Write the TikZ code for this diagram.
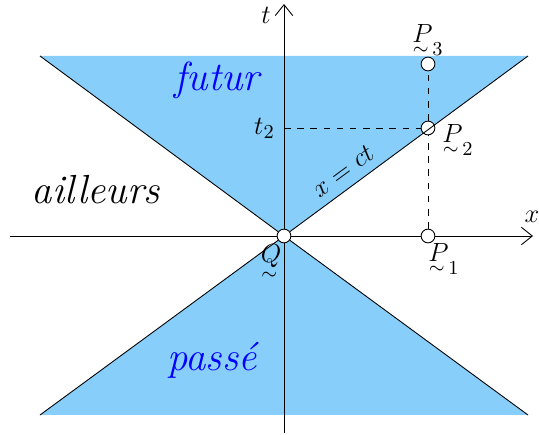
\documentclass[tikz,border=0pt]{standalone}
\usepackage{amsmath,amssymb}
\usetikzlibrary{arrows.meta,positioning}
% letter with a small tilde under it
\newcommand{\utl}[1]{\mathord{\setbox0\hbox{$#1$}\vtop{\copy0\nointerlineskip
    \kern2pt\hbox to\wd0{\hss$\scriptstyle\sim$\hss\kern1.5pt}}}}
\definecolor{conecol}{RGB}{135,206,250}

\begin{document}
\begin{tikzpicture}[
    x=0.016cm, y=-0.016cm,
    event/.style={
        circle, draw, fill=white, inner sep=0pt,
        minimum size=0.22cm
    },
    axis/.style={-{Straight Barb[length=5pt,width=8pt]}},
    lab/.style={font=\fontsize{12.5}{15}\selectfont, inner sep=1pt},
    region/.style={font=\fontsize{18.5}{22}\selectfont\itshape},
    guide/.style={dashed}
]
\useasboundingbox (0,0) rectangle (539,435);

% light cone
\fill[conecol] (40,56) -- (528,56) -- (284,236) -- cycle;
\fill[conecol] (40,415) -- (528,415) -- (284,236) -- cycle;

\node[event] (O)  at (284,236) {};
\node[event] (P1) at (428,236) {};
\node[event] (P2) at (428,128) {};
\node[event] (P3) at (428,64)  {};

\coordinate (ul) at (40,56);
\coordinate (ur) at (528,56);
\coordinate (ll) at (40,415);
\coordinate (lr) at (528,415);
\coordinate (xmin) at (10,236);
\coordinate (xmax) at (533,236);
\coordinate (tmin) at (284,433);
\coordinate (tmax) at (284,4);
\coordinate (t2) at (284,128);

\draw (ul) -- (O) -- (lr);
\draw (ll) -- (O) -- (ur);
\draw (xmin) -- (O);
\draw[axis] (O) -- (P1) (P1) -- (xmax);
\draw (tmin) -- (O);
\draw[axis] (O) -- (tmax);

\draw[guide] (P1) -- (P2);
\draw[guide] (P2) -- (P3);
\draw[guide] (t2) -- (P2);

% labels
\node[lab] (Qlab)  at (271,262) {$\utl{Q}$};
\node[lab] (P1lab) at (444,259) {$\utl{P}_1$};
\node[lab] (P2lab) at (458,140) {$\utl{P}_2$};
\node[lab] (P3lab) at (428,40)  {$\utl{P}_3$};
\node[lab, left=3pt of t2] (t2lab) {$t_2$};
\node[lab] (xlab) at (532,217) {$x$};
\node[lab] (tlab) at (266,15) {$t$};

\node[region, text=blue] (futur) at (217,80) {futur};
\node[region, text=blue] (passe) at (212,360) {passé};
\node[region] (ailleurs) at (96,190) {ailleurs};
\node[lab, rotate=36.4] (eq) at (343,171) {$x=ct$};
\end{tikzpicture}
\end{document}
